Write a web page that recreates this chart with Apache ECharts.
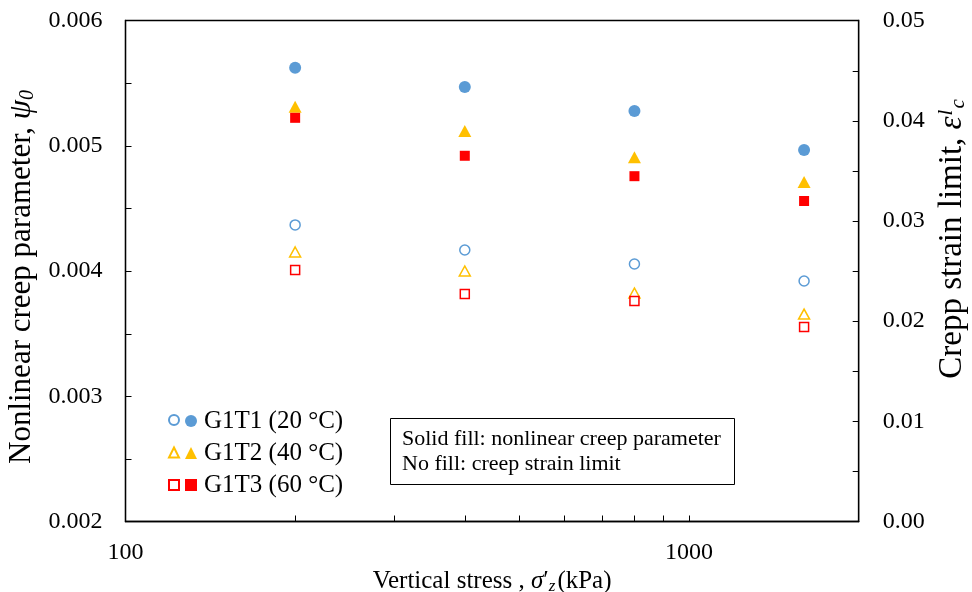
<!DOCTYPE html>
<html>
<head>
<meta charset="utf-8">
<script src="https://cdn.jsdelivr.net/npm/echarts@6/dist/echarts.min.js"></script>
<style>html,body{margin:0;padding:0;background:#fff;}#c{width:972px;height:592px;}</style>
</head>
<body>
<div id="c"></div>
<script>
// ---- data ----
const stress = [200, 400, 800, 1600];
const psiG1T1 = [0.005623, 0.005469, 0.005277, 0.004966];
const psiG1T2 = [0.005311, 0.005118, 0.004909, 0.004711];
const psiG1T3 = [0.005223, 0.004920, 0.004757, 0.004559];
const epsG1T1 = [0.0296, 0.0271, 0.0257, 0.0240];
const epsG1T2 = [0.0269, 0.0250, 0.0228, 0.0207];
const epsG1T3 = [0.0251, 0.0227, 0.0220, 0.0194];
const groupNames = ['G1T1 (20 °C)', 'G1T2 (40 °C)', 'G1T3 (60 °C)'];
const xTickValues = [100, 200, 300, 400, 500, 600, 700, 800, 900, 1000, 2000];
const xLabelValues = [100, 1000];
const yLeftTicks = [0.0025, 0.003, 0.0035, 0.004, 0.0045, 0.005, 0.0055];
const yLeftLabels = [0.002, 0.003, 0.004, 0.005, 0.006];
const yRightTicks = [0.005, 0.01, 0.015, 0.02, 0.025, 0.03, 0.035, 0.04, 0.045];
const yRightLabels = [0, 0.01, 0.02, 0.03, 0.04, 0.05];

const FONT = "'Liberation Serif','Times New Roman',serif";
const colors = ['#5B9BD5', '#FFC000', '#FF0000'];
const symbols = ['circle', 'triangle', 'rect'];
const solidSizes = [12, [13, 12], 10];
const hollowSizes = [10, [11, 10], 9];
const TICK = 6;

const pair = (xs, ys) => xs.map((x, i) => [x, ys[i]]);
const psi = [psiG1T1, psiG1T2, psiG1T3];
const eps = [epsG1T1, epsG1T2, epsG1T3];

const series = [];
for (let g = 0; g < 3; g++) {
  series.push({
    name: groupNames[g] + ' (strain limit)',
    type: 'scatter', xAxisIndex: 0, yAxisIndex: 1,
    symbol: symbols[g], symbolSize: hollowSizes[g],
    itemStyle: { color: '#fff', borderColor: colors[g], borderWidth: 1.5, opacity: 1 },
    data: pair(stress, eps[g]), z: 3
  });
}
for (let g = 0; g < 3; g++) {
  series.push({
    name: groupNames[g],
    type: 'scatter', xAxisIndex: 0, yAxisIndex: 0,
    symbol: symbols[g], symbolSize: solidSizes[g],
    itemStyle: { color: colors[g], opacity: 1 },
    data: pair(stress, psi[g]), z: 4
  });
}

const tickStyle = { show: true, inside: true, length: TICK, lineStyle: { color: '#000', width: 1 } };

const chart = echarts.init(document.getElementById('c'), null, { renderer: 'canvas' });
chart.setOption({
  animation: false,
  backgroundColor: '#fff',
  textStyle: { fontFamily: FONT, color: '#000' },
  grid: { left: 125.5, right: 113.3, top: 20.5, bottom: 70.5, show: true, borderColor: '#000', borderWidth: 1.3, containLabel: false, outerBoundsMode: 'none' },
  title: {
    text: 'Solid fill: nonlinear creep parameter\nNo fill: creep strain limit',
    left: 390, top: 418,
    padding: [9, 14, 8, 12],
    borderColor: '#000', borderWidth: 1,
    textStyle: { fontFamily: FONT, fontSize: 22, fontWeight: 'normal', color: '#000', lineHeight: 25 }
  },
  legend: [
    {
      data: groupNames.map(n => n + ' (strain limit)'),
      orient: 'vertical', left: 168, top: 414, itemGap: 20.5, padding: 0,
      itemWidth: 10, itemHeight: 10,
      formatter: () => '',
      textStyle: { fontFamily: FONT, fontSize: 10, lineHeight: 10 }, selectedMode: false
    },
    {
      data: groupNames,
      orient: 'vertical', left: 185, top: 408.5, itemGap: 7, padding: 0,
      itemWidth: 12, itemHeight: 12,
      textStyle: { fontFamily: FONT, fontSize: 25, lineHeight: 12, color: '#000', padding: [0, 0, 0, 2] }, selectedMode: false
    }
  ],
  xAxis: [{
    type: 'log', logBase: 10, min: 100, max: 2000,
    position: 'bottom',
    axisLine: { show: true, lineStyle: { color: '#000', width: 1.3 } },
    axisTick: Object.assign({}, tickStyle, { customValues: xTickValues }),
    axisLabel: { show: true, customValues: xLabelValues, fontFamily: FONT, fontSize: 24, color: '#000', margin: 19, formatter: v => String(Math.round(v)) },
    splitLine: { show: false },
    name: 'Vertical stress , {i|σ}′{sub|z}(kPa)',
    nameLocation: 'middle', nameGap: 45,
    nameTextStyle: {
      fontFamily: FONT, fontSize: 25, color: '#000',
      rich: {
        i: { fontFamily: FONT, fontSize: 25, fontStyle: 'italic', color: '#000' },
        sub: { fontFamily: FONT, fontSize: 17, fontStyle: 'italic', color: '#000', verticalAlign: 'bottom', padding: [9, 2, 0, 0] }
      }
    }
  }],
  yAxis: [{
    type: 'value', min: 0.002, max: 0.006, interval: 0.001,
    position: 'left',
    axisLine: { show: true, lineStyle: { color: '#000', width: 1.3 } },
    axisTick: { show: false },
    axisLabel: { customValues: yLeftLabels, fontFamily: FONT, fontSize: 24, color: '#000', margin: 23, formatter: v => v.toFixed(3) },
    splitLine: { show: false },
    name: 'Nonlinear creep parameter, {i|ψ}{sub|0}',
    nameLocation: 'middle', nameRotate: 90, nameGap: 78,
    nameTextStyle: {
      fontFamily: FONT, fontSize: 31, color: '#000',
      padding: [0, 12, 0, 0],
      rich: {
        i: { fontFamily: FONT, fontSize: 31, fontStyle: 'italic', color: '#000' },
        sub: { fontFamily: FONT, fontSize: 20, fontStyle: 'italic', color: '#000', verticalAlign: 'bottom', padding: [10, 0, 0, 0] }
      }
    }
  }, {
    type: 'value', min: 0, max: 0.05, interval: 0.01,
    position: 'right',
    axisLine: { show: true, lineStyle: { color: '#000', width: 1.3 } },
    axisTick: { show: false },
    axisLabel: { customValues: yRightLabels, fontFamily: FONT, fontSize: 24, color: '#000', margin: 24, formatter: v => v.toFixed(2) },
    splitLine: { show: false },
    name: 'Crepp strain limit, {i|ε}{sup|l}{sub|c}',
    nameLocation: 'middle', nameRotate: 90, nameGap: 74,
    nameTextStyle: {
      fontFamily: FONT, fontSize: 33, color: '#000',
      padding: [0, 0, 0, 64],
      rich: {
        i: { fontFamily: FONT, fontSize: 33, fontStyle: 'italic', color: '#000' },
        sup: { fontFamily: FONT, fontSize: 21, fontStyle: 'italic', color: '#000', verticalAlign: 'top', padding: [0, 1, 12, 1] },
        sub: { fontFamily: FONT, fontSize: 21, fontStyle: 'italic', color: '#000', verticalAlign: 'bottom', padding: [10, 0, 0, 0] }
      }
    }
  }],
  series: series
});

// inside tick marks on both value axes, positioned through the axes' own scales
const x0 = chart.convertToPixel({ xAxisIndex: 0 }, 100);
const x1 = chart.convertToPixel({ xAxisIndex: 0 }, 2000);
const tickLines = [];
yLeftTicks.forEach(v => {
  const y = Math.round(chart.convertToPixel({ yAxisIndex: 0 }, v)) + 0.5;
  tickLines.push({ type: 'line', z: 100, silent: true, shape: { x1: x0, y1: y, x2: x0 + TICK, y2: y }, style: { stroke: '#000', lineWidth: 1 } });
});
yRightTicks.forEach(v => {
  const y = Math.round(chart.convertToPixel({ yAxisIndex: 1 }, v)) + 0.5;
  tickLines.push({ type: 'line', z: 100, silent: true, shape: { x1: x1 - TICK, y1: y, x2: x1, y2: y }, style: { stroke: '#000', lineWidth: 1 } });
});
chart.setOption({ graphic: { elements: tickLines } });
</script>
</body>
</html>
